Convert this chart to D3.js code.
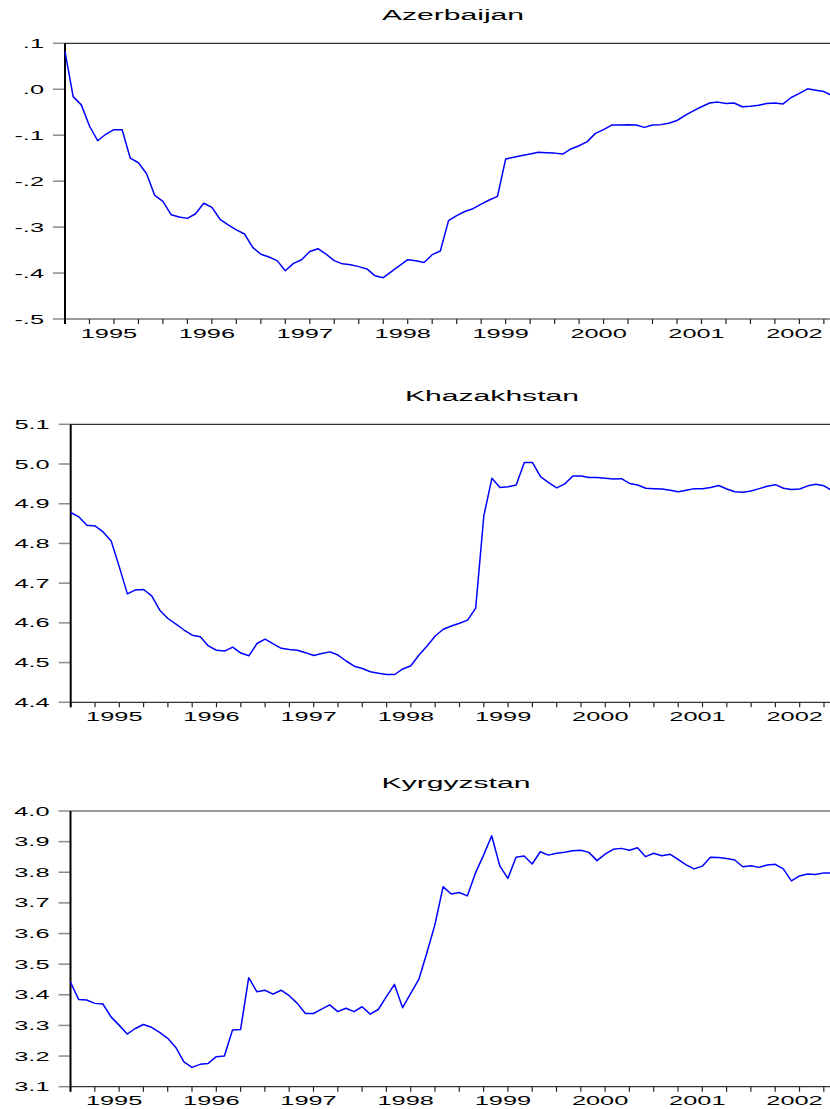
<!DOCTYPE html>
<html>
<head>
<meta charset="utf-8">
<script src="https://cdn.jsdelivr.net/npm/d3@7/dist/d3.min.js"></script>
<style>
body { margin: 0; background: #fff; }
text { font-family: "Liberation Sans", Arial, sans-serif; fill: #000; }
</style>
</head>
<body>
<svg width="830" height="1109"></svg>
<script>
// monthly observations, first one is 1994:07
var azerbaijan = [0.082, -0.016, -0.034, -0.080, -0.112, -0.098, -0.088, -0.088, -0.150, -0.160,
    -0.184, -0.231, -0.244, -0.273, -0.278, -0.281, -0.271, -0.248, -0.257, -0.283,
    -0.295, -0.306, -0.315, -0.344, -0.359, -0.365, -0.373, -0.395, -0.379, -0.371,
    -0.353, -0.347, -0.359, -0.373, -0.380, -0.382, -0.386, -0.391, -0.406, -0.410,
    -0.397, -0.384, -0.371, -0.373, -0.377, -0.360, -0.352, -0.286, -0.275, -0.266,
    -0.260, -0.250, -0.241, -0.233, -0.152, -0.148, -0.144, -0.141, -0.137, -0.138,
    -0.139, -0.141, -0.130, -0.123, -0.114, -0.096, -0.088, -0.078, -0.078, -0.077,
    -0.078, -0.083, -0.078, -0.077, -0.074, -0.068, -0.057, -0.047, -0.038, -0.030,
    -0.028, -0.031, -0.030, -0.038, -0.037, -0.035, -0.031, -0.030, -0.032, -0.018,
    -0.009, 0.001, -0.002, -0.005, -0.014]

var khazakhstan = [4.878, 4.867, 4.846, 4.844, 4.829, 4.806, 4.741, 4.673, 4.683, 4.684,
    4.668, 4.632, 4.611, 4.597, 4.582, 4.569, 4.565, 4.542, 4.531, 4.529,
    4.539, 4.524, 4.517, 4.548, 4.559, 4.547, 4.536, 4.533, 4.531, 4.525,
    4.518, 4.523, 4.527, 4.519, 4.504, 4.491, 4.485, 4.477, 4.473, 4.470,
    4.470, 4.484, 4.492, 4.519, 4.542, 4.567, 4.584, 4.592, 4.599, 4.607,
    4.637, 4.869, 4.964, 4.941, 4.943, 4.947, 5.004, 5.004, 4.968, 4.953,
    4.940, 4.950, 4.970, 4.970, 4.966, 4.966, 4.964, 4.962, 4.963, 4.951,
    4.947, 4.939, 4.938, 4.937, 4.934, 4.930, 4.934, 4.938, 4.938, 4.941,
    4.946, 4.937, 4.930, 4.929, 4.932, 4.938, 4.944, 4.948, 4.939, 4.936,
    4.937, 4.945, 4.949, 4.945, 4.933]

var kyrgyzstan = [3.441, 3.385, 3.383, 3.372, 3.370, 3.328, 3.301, 3.272, 3.290, 3.303,
    3.294, 3.277, 3.258, 3.228, 3.181, 3.163, 3.173, 3.176, 3.198, 3.200,
    3.285, 3.287, 3.456, 3.410, 3.415, 3.402, 3.415, 3.397, 3.372, 3.339,
    3.339, 3.353, 3.367, 3.345, 3.356, 3.345, 3.361, 3.337, 3.352, 3.394,
    3.434, 3.358, 3.405, 3.450, 3.537, 3.630, 3.753, 3.729, 3.734, 3.723,
    3.798, 3.856, 3.919, 3.821, 3.780, 3.849, 3.853, 3.827, 3.867, 3.856,
    3.862, 3.865, 3.870, 3.872, 3.865, 3.838, 3.859, 3.875, 3.878, 3.872,
    3.880, 3.851, 3.862, 3.854, 3.859, 3.842, 3.824, 3.811, 3.820, 3.849,
    3.848, 3.845, 3.840, 3.818, 3.821, 3.816, 3.824, 3.826, 3.811, 3.772,
    3.788, 3.794, 3.793, 3.798, 3.798]

var years = [1995, 1996, 1997, 1998, 1999, 2000, 2001, 2002]
var azTicks = [-0.5, -0.4, -0.3, -0.2, -0.1, 0.0, 0.1]
var khTicks = [4.4, 4.5, 4.6, 4.7, 4.8, 4.9, 5.0, 5.1]
var kyTicks = [3.1, 3.2, 3.3, 3.4, 3.5, 3.6, 3.7, 3.8, 3.9, 4.0]

var start = 1994.5   // 1994:07 as decimal year

var svg = d3.select("svg")

// eviews style: ".1", "-.3", "4.5"  (d3 gives a unicode minus, swap it for "-")
function fmt(v) {
    return d3.format(".1f")(v).replace("\u2212", "-").replace(/^(-?)0\./, "$1.")
}

function makePanel(o) {
    var n = o.data.length - 1
    var x = d3.scaleLinear().domain([start, start + n / 12]).range([o.left, o.left + n * o.step])
    var y = d3.scaleLinear().domain([o.ticks[0], o.ticks[o.ticks.length - 1]]).range([o.bottom, o.top])
    var g = svg.append("g")

    // title (picture is stretched sideways, so is the text)
    g.append("text")
        .attr("transform", "translate(" + o.titleX + "," + (o.top - 23) + ") scale(2.15,1)")
        .attr("text-anchor", "middle").attr("font-size", 14)
        .text(o.name)

    // y ticks + labels
    g.selectAll(".yt").data(o.ticks).enter().append("line")
        .attr("x1", o.left - 12).attr("x2", o.left)
        .attr("y1", d => y(d)).attr("y2", d => y(d))
        .attr("stroke", "#8c8c8c").attr("stroke-width", 1.5)

    g.selectAll(".yl").data(o.ticks).enter().append("text")
        .attr("transform", d => "translate(" + (o.left - 21) + "," + (y(d) + 4.5) + ") scale(1.95,1)")
        .attr("text-anchor", "end").attr("font-size", 13)
        .text(fmt)

    // quarter ticks on the bottom
    var quarters = d3.range(0, n, 3).map(i => start + i / 12)
    g.selectAll(".xt").data(quarters).enter().append("line")
        .attr("x1", d => x(d)).attr("x2", d => x(d))
        .attr("y1", o.bottom).attr("y2", o.bottom + 5)
        .attr("stroke", "#222").attr("stroke-width", 1.2)

    g.selectAll(".xl").data(years).enter().append("text")
        .attr("transform", d => "translate(" + (x(d) - 5) + "," + (o.bottom + 18.5) + ") scale(1.95,1)")
        .attr("text-anchor", "middle").attr("font-size", 13)
        .text(d => d)

    // frame
    g.append("line").attr("x1", o.left).attr("x2", 830).attr("y1", o.top).attr("y2", o.top)
        .attr("stroke", "#333").attr("stroke-width", 1.2)
    g.append("line").attr("x1", o.left).attr("x2", 830).attr("y1", o.bottom).attr("y2", o.bottom)
        .attr("stroke", "#333").attr("stroke-width", 1.2)
    g.append("line").attr("x1", o.left).attr("x2", o.left).attr("y1", o.top).attr("y2", o.bottom + 5)
        .attr("stroke", "#000").attr("stroke-width", 2)

    var line = d3.line().x((d, i) => x(start + i / 12)).y(d => y(d))
    g.append("path").datum(o.data)
        .attr("d", line)
        .attr("fill", "none").attr("stroke", "#0000ff").attr("stroke-width", 1.5)
        .attr("stroke-linejoin", "round")
}

makePanel({name: "Azerbaijan", data: azerbaijan, ticks: azTicks,
    left: 65, step: 8.16, top: 43.3, bottom: 319, titleX: 453})
makePanel({name: "Khazakhstan", data: khazakhstan, ticks: khTicks,
    left: 70.7, step: 8.1, top: 424.3, bottom: 702.3, titleX: 492})
makePanel({name: "Kyrgyzstan", data: kyrgyzstan, ticks: kyTicks,
    left: 70.5, step: 8.1, top: 811, bottom: 1086.7, titleX: 456})
</script>
</body>
</html>
